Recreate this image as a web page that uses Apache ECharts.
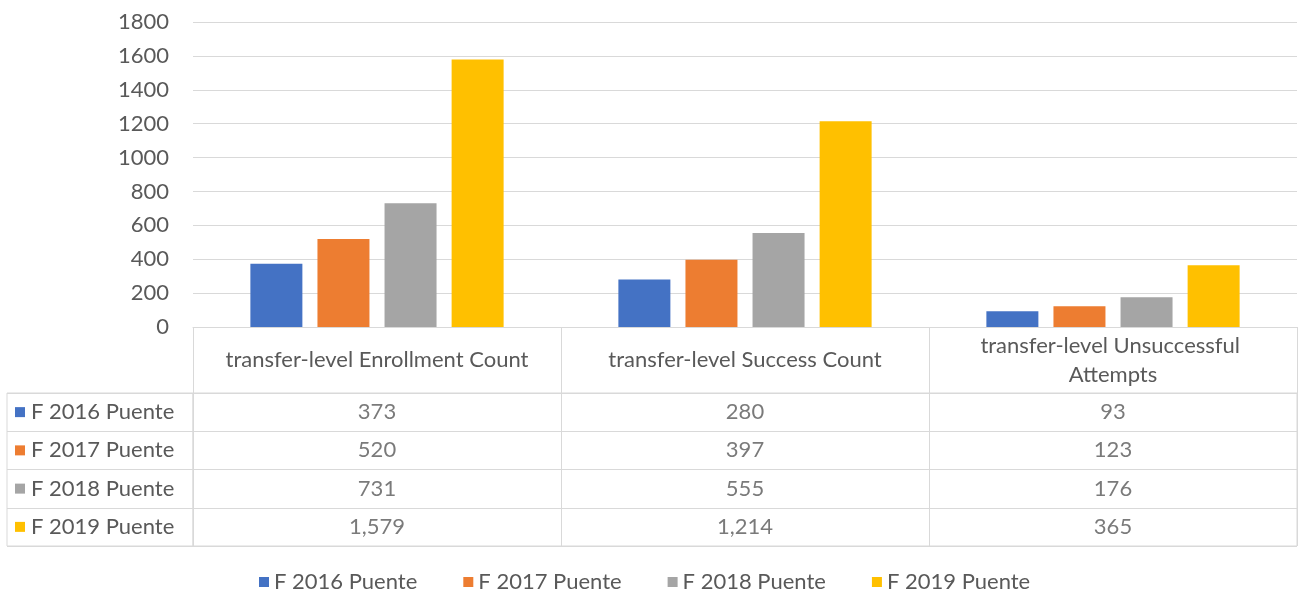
<!DOCTYPE html>
<html>
<head>
<meta charset="utf-8">
<script src="https://cdn.jsdelivr.net/npm/echarts@6/dist/echarts.min.js"></script>
<style>
  html, body { margin: 0; padding: 0; background: #fff; }
  #chart { width: 1303px; height: 592px; }
</style>
</head>
<body>
<div id="chart"></div>
<script>
const categories = ['transfer-level Enrollment Count', 'transfer-level Success Count', 'transfer-level Unsuccessful Attempts'];
const seriesNames = ['F 2016 Puente', 'F 2017 Puente', 'F 2018 Puente', 'F 2019 Puente'];
const f2016 = [373, 280, 93];
const f2017 = [520, 397, 123];
const f2018 = [731, 555, 176];
const f2019 = [1579, 1214, 365];
const yTicks = [0, 200, 400, 600, 800, 1000, 1200, 1400, 1600, 1800];

const colors = ['#4472C4', '#ED7D31', '#A5A5A5', '#FFC000'];
const allValues = [f2016, f2017, f2018, f2019];
const textColor = '#595959';
const lineColor = '#d9d9d9';
const font = 'Lato, "Open Sans", sans-serif';
const fs = 22;

// table cells: [column, row, value]
const cells = [];
allValues.forEach((vals, r) => {
  vals.forEach((v, c) => cells.push([c, r, v]));
});

const rich = {};
colors.forEach((c, i) => {
  rich['s' + i] = { width: 10, height: 10, backgroundColor: c };
});
rich.t = { fontSize: fs, color: textColor, fontFamily: font, padding: [0, 0, 0, 6] };

const chart = echarts.init(document.getElementById('chart'));
const option = {
  color: colors,
  textStyle: { fontFamily: font },
  animation: false,
  legend: {
    bottom: -6,
    left: 254,
    icon: 'rect',
    itemWidth: 10,
    itemHeight: 10,
    itemGap: 46,
    textStyle: { fontSize: fs, color: textColor, fontFamily: font },
    data: seriesNames
  },
  grid: [
    { left: 193, right: 6, top: 22, height: 305 },
    { left: 193, right: 6, top: 393, height: 153, show: true, borderColor: lineColor, borderWidth: 1 },
    { left: 7, width: 186, top: 393, height: 153, show: true, borderColor: lineColor, borderWidth: 1 }
  ],
  xAxis: [
    {
      gridIndex: 0,
      type: 'category',
      data: categories,
      axisLine: { lineStyle: { color: lineColor, width: 1 } },
      axisTick: { show: true, length: 66, lineStyle: { color: lineColor } },
      axisLabel: {
        fontSize: fs, color: textColor, fontFamily: font,
        margin: 33, verticalAlign: 'middle', lineHeight: 29,
        width: 340, overflow: 'break', interval: 0
      }
    },
    {
      gridIndex: 1,
      type: 'category',
      data: categories,
      axisLine: { show: false },
      axisTick: { show: false },
      axisLabel: { show: false },
      splitLine: { show: true, lineStyle: { color: lineColor } }
    },
    {
      gridIndex: 2,
      type: 'value',
      show: false
    }
  ],
  yAxis: [
    {
      gridIndex: 0,
      type: 'value',
      min: yTicks[0],
      max: yTicks[yTicks.length - 1],
      interval: 200,
      axisLine: { show: false },
      axisTick: { show: false },
      axisLabel: { fontSize: fs, color: textColor, fontFamily: font, margin: 24, formatter: v => String(v) },
      splitLine: { lineStyle: { color: lineColor } }
    },
    {
      gridIndex: 1,
      type: 'category',
      inverse: true,
      data: seriesNames,
      axisLine: { show: false },
      axisTick: { show: false },
      axisLabel: { show: false },
      splitLine: { show: true, lineStyle: { color: lineColor } }
    },
    {
      gridIndex: 2,
      type: 'category',
      inverse: true,
      data: seriesNames,
      axisLine: { show: false },
      axisTick: { show: false },
      splitLine: { show: true, lineStyle: { color: lineColor } },
      axisLabel: {
        inside: true,
        margin: 8,
        formatter: (v, i) => '{s' + i + '|}{t|' + v + '}',
        rich: rich
      }
    }
  ],
  series: [
    ...seriesNames.map((name, i) => ({
      name: name,
      type: 'bar',
      xAxisIndex: 0,
      yAxisIndex: 0,
      data: allValues[i],
      barWidth: 52,
      barGap: '29%'
    })),
    {
      type: 'scatter',
      xAxisIndex: 1,
      yAxisIndex: 1,
      silent: true,
      symbolSize: 1,
      itemStyle: { color: 'rgba(0,0,0,0)' },
      data: cells,
      label: {
        show: true,
        position: 'inside',
        fontSize: fs,
        color: textColor,
        fontFamily: font,
        formatter: p => p.value[2].toLocaleString('en-US')
      }
    }
  ]
};
chart.setOption(option);
</script>
</body>
</html>
